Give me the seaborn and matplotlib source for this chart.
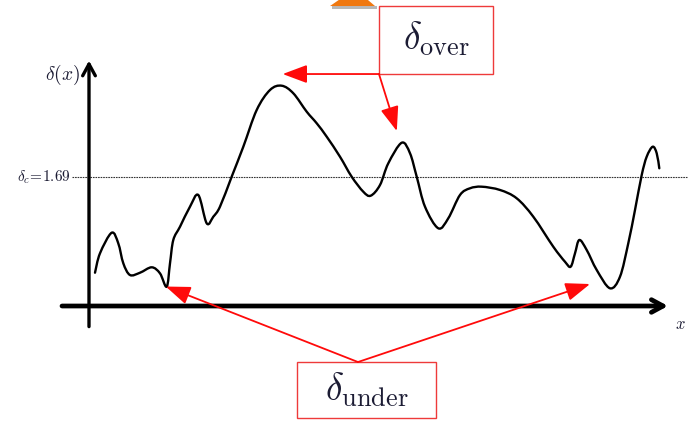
import matplotlib
matplotlib.use("Agg")
import matplotlib.pyplot as plt
from matplotlib.patches import Rectangle, Polygon, PathPatch
from matplotlib.path import Path
import numpy as np
import pandas as pd
import seaborn as sns

# Density-contrast field delta(x) along the line of sight
x_vals = [0.100, 0.183, 0.378, 0.488, 0.572, 0.683, 0.850, 1.045, 1.183, 1.295,
          1.350, 1.405, 1.517, 1.683, 1.822, 1.962, 2.072, 2.183, 2.378, 2.572,
          2.795, 3.017, 3.212, 3.405, 3.628, 3.795, 3.962, 4.183, 4.378, 4.572,
          4.695, 4.850, 4.988, 5.212, 5.350, 5.462, 5.600, 5.822, 5.988, 6.183,
          6.350, 6.545, 6.850, 7.128, 7.405, 7.738, 7.933, 8.028, 8.100, 8.172,
          8.295, 8.462, 8.683, 8.850, 8.988, 9.100, 9.212, 9.295, 9.395, 9.462,
          9.505]
delta_vals = [0.436, 0.690, 0.960, 0.821, 0.559, 0.406, 0.436, 0.507, 0.428, 0.253,
              0.559, 0.865, 1.039, 1.301, 1.454, 1.083, 1.170, 1.301, 1.694, 2.087,
              2.568, 2.830, 2.886, 2.787, 2.546, 2.394, 2.218, 1.956, 1.694, 1.497,
              1.445, 1.585, 1.869, 2.139, 2.001, 1.694, 1.301, 1.018, 1.149, 1.454,
              1.542, 1.563, 1.520, 1.411, 1.170, 0.777, 0.580, 0.515, 0.690, 0.865,
              0.734, 0.472, 0.232, 0.384, 0.821, 1.258, 1.716, 1.956, 2.087, 2.000,
              1.804]

delta_c = 1.69
threshold_x = [-0.29, 9.97]
threshold_label = r"$\delta_c\!=\!1.69$"
over_label = r"$\delta_{\rm over}$"
under_label = r"$\delta_{\rm under}$"

df = pd.DataFrame({"x": x_vals, "delta": delta_vals})
thr = pd.DataFrame({"x": threshold_x, "delta": [delta_c, delta_c]})

sns.set_style("white")
plt.rcParams["mathtext.fontset"] = "cm"

fig = plt.figure(figsize=(6.93, 4.22), dpi=100)
ax = fig.add_axes([0, 0, 1, 1])
ax.set_xlim(-1.4833, 10.0667)
ax.set_ylim(-1.5197, 4.0089)
ax.set_axis_off()

ink = "#1c1c34"
red = "#ff0a0a"

# threshold line
sns.lineplot(data=thr, x="x", y="delta", ax=ax, color="#333333", lw=0.8,
             linestyle=(0, (1.5, 0.8)), estimator=None, zorder=1)
ax.text(-0.30, delta_c, threshold_label, fontsize=11, color=ink,
        ha="right", va="center")


def smooth_path(xs, ys):
    """Catmull-Rom curve through the given points as cubic Bezier segments."""
    p = np.column_stack([xs, ys])
    ext = np.vstack([p[0], p, p[-1]])
    verts = [tuple(p[0])]
    codes = [Path.MOVETO]
    for i in range(1, len(ext) - 2):
        p0, p1, p2, p3 = ext[i - 1], ext[i], ext[i + 1], ext[i + 2]
        c1 = p1 + (p2 - p0) / 6.0
        c2 = p2 - (p3 - p1) / 6.0
        verts += [tuple(c1), tuple(c2), tuple(p2)]
        codes += [Path.CURVE4] * 3
    return Path(verts, codes)


# the field itself
ax.add_patch(PathPatch(smooth_path(df["x"].values, df["delta"].values),
                       facecolor="none", edgecolor="black", lw=1.7,
                       capstyle="round", joinstyle="round", zorder=3))

# axes with arrow heads
ax.annotate("", xy=(9.65, 0), xytext=(-0.45, 0),
            arrowprops=dict(arrowstyle="->,head_length=0.7,head_width=0.38",
                            lw=3.4, color="black", mutation_scale=12,
                            shrinkA=0, shrinkB=0), zorder=4)
ax.annotate("", xy=(0, 3.215), xytext=(0, -0.27),
            arrowprops=dict(arrowstyle="->,head_length=0.7,head_width=0.38",
                            lw=2.4, color="black", mutation_scale=12,
                            shrinkA=0, shrinkB=0), zorder=4)
ax.text(-0.15, 3.03, r"$\delta(x)$", fontsize=14, color=ink,
        ha="right", va="center")
ax.text(9.85, -0.23, r"$x$", fontsize=12, color=ink, ha="center", va="center")

# small orange marker at the top edge
ax.add_patch(Polygon([(4.05, 3.89), (4.80, 3.89), (4.80, 3.93), (4.05, 3.93)],
                     closed=True, color="#b8b8b8", lw=0, zorder=1))
ax.add_patch(Polygon([(4.017, 3.930), (4.767, 3.930), (4.633, 4.02), (4.183, 4.02)],
                     closed=True, color="#f07810", lw=0, zorder=2))

# labelled boxes
ax.add_patch(Rectangle((4.833, 3.039), 1.900, 0.891, fill=False,
                       edgecolor="#ee3a3a", lw=1.0, zorder=5))
ax.text(5.783, 3.50, over_label, fontsize=27, color=ink,
        ha="center", va="center", zorder=6)
ax.add_patch(Rectangle((3.467, -1.467), 2.316, 0.733, fill=False,
                       edgecolor="#ee3a3a", lw=1.0, zorder=5))
ax.text(4.625, -1.10, under_label, fontsize=27, color=ink,
        ha="center", va="center", zorder=6)

arrow_kw = dict(arrowstyle="-|>,head_length=0.75,head_width=0.28", lw=1.3,
                color=red, mutation_scale=20, shrinkA=0, shrinkB=0)
# over-shoots
ax.annotate("", xy=(3.228, 3.039), xytext=(4.833, 3.039), arrowprops=arrow_kw, zorder=6)
ax.annotate("", xy=(5.13, 2.292), xytext=(4.833, 3.039), arrowprops=arrow_kw, zorder=6)
# under-shoots
ax.annotate("", xy=(1.28, 0.255), xytext=(4.483, -0.734), arrowprops=arrow_kw, zorder=6)
ax.annotate("", xy=(8.35, 0.288), xytext=(4.483, -0.734), arrowprops=arrow_kw, zorder=6)

fig.savefig("out.png", dpi=100, facecolor="white")
